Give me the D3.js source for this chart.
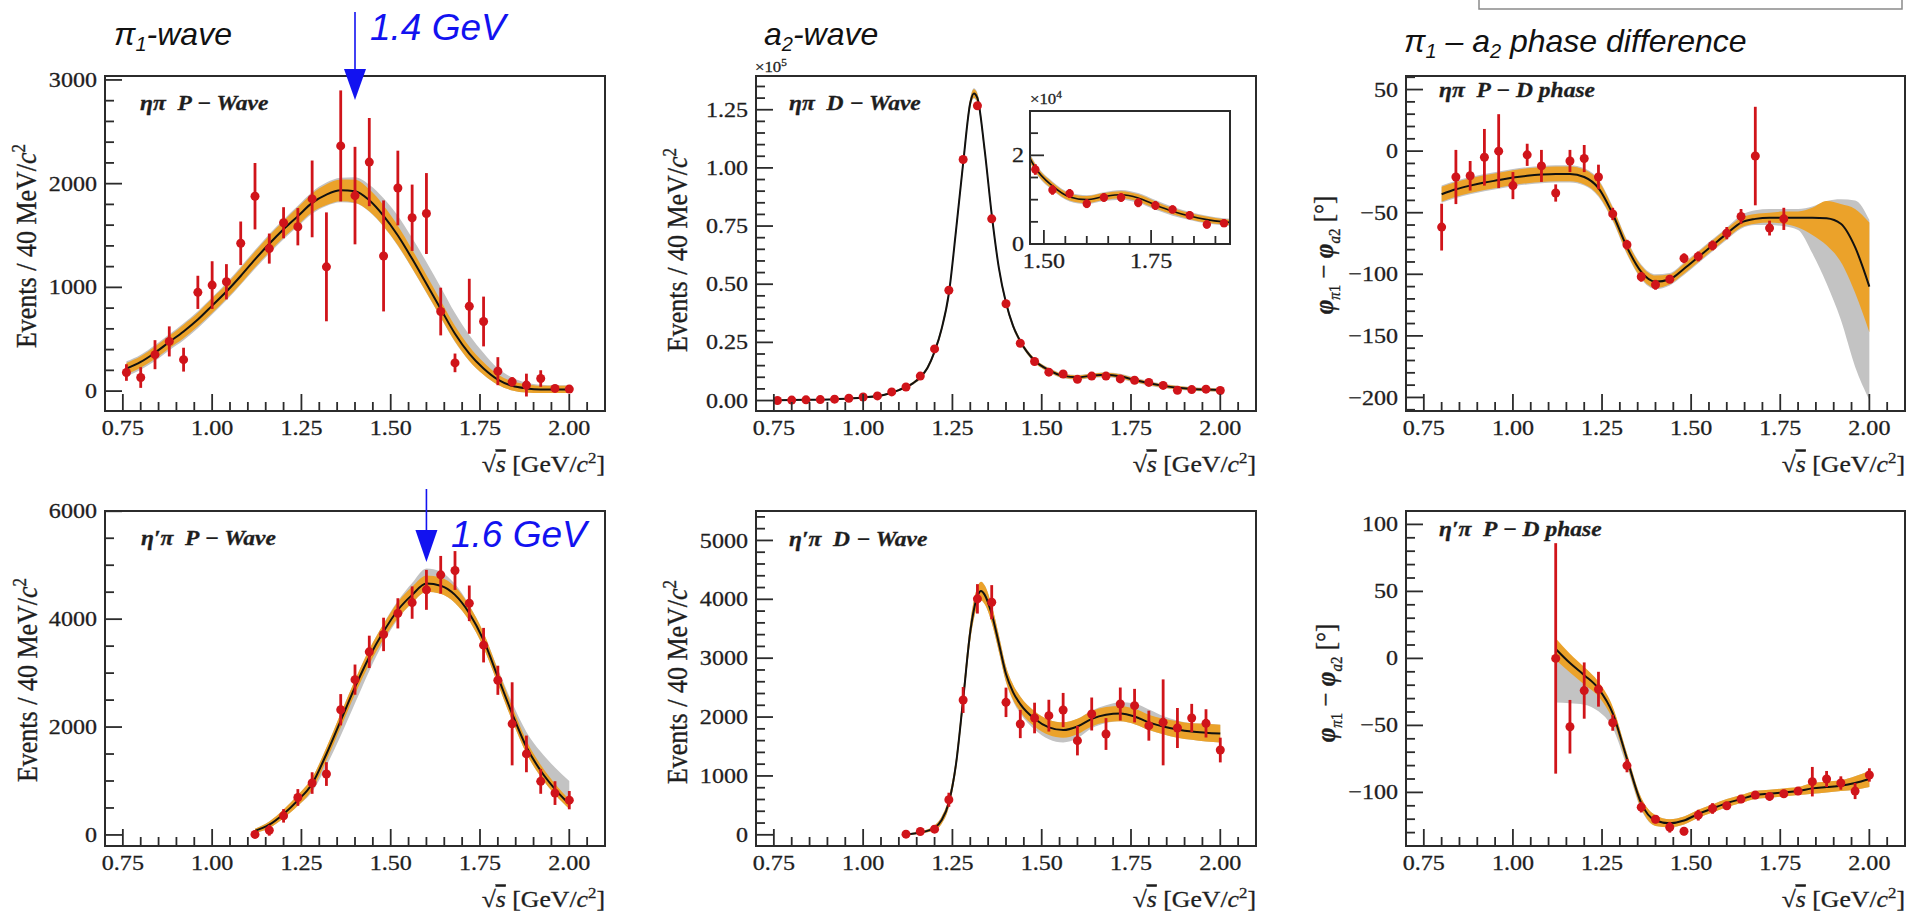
<!DOCTYPE html>
<html>
<head>
<meta charset="utf-8">
<title>π1 and a2 waves in ηπ and η′π</title>
<script src="https://cdn.jsdelivr.net/npm/d3@7/dist/d3.min.js"></script>
<style>
  html, body { margin: 0; padding: 0; background: #fff; }
  svg { display: block; }
  .serif { font-family: "Liberation Serif", "Times New Roman", Times, serif; fill: #1e1e1e; stroke: #1e1e1e; stroke-width: 0.3px; }
  .sans { font-family: "Liberation Sans", Arial, Helvetica, sans-serif; }
</style>
</head>
<body>
<svg id="chart" width="1919" height="911"></svg>
<script>
// ---------------- bin centres, GeV/c^2 ----------------
const massBinsEtaPi = [0.76,0.80,0.84,0.88,0.92,0.96,1.00,1.04,1.08,1.12,1.16,1.20,1.24,1.28,1.32,1.36,1.40,1.44,1.48,1.52,1.56,1.60,1.64,1.68,1.72,1.76,1.80,1.84,1.88,1.92,1.96,2.00];
const phaseBinsEtaPi = [0.80,0.84,0.88,0.92,0.96,1.00,1.04,1.08,1.12,1.16,1.20,1.24,1.28,1.32,1.36,1.40,1.44,1.48,1.52,1.56,1.60,1.64,1.68,1.72,1.76];
const massBinsEtaPrimePi = [1.12,1.16,1.20,1.24,1.28,1.32,1.36,1.40,1.44,1.48,1.52,1.56,1.60,1.64,1.68,1.72,1.76,1.80,1.84,1.88,1.92,1.96,2.00];
const xTickValues = [0.75,1.00,1.25,1.50,1.75,2.00];

// ---------------- ηπ P-wave (events / 40 MeV) ----------------
const etaPiPWave    = [179,131,351,479,303,952,1022,1054,1425,1879,1374,1623,1585,1853,1198,2364,1885,2208,1303,1958,1671,1712,767,272,818,671,192,89,58,121,26,19];
const etaPiPWaveErr = [80,100,140,145,115,160,230,170,210,320,145,150,180,370,525,535,470,425,535,360,320,390,230,90,265,240,135,45,110,80,20,20];
const etaPiPWaveFit = [217,281,370,473,575,690,824,960,1110,1270,1420,1560,1687,1815,1895,1936,1927,1840,1690,1500,1275,1035,792,553,361,217,110,51,26,16,16,16];
const etaPiPWaveStat = [55,55,60,60,65,65,70,70,75,75,80,80,85,90,100,105,110,105,100,95,90,85,80,75,70,60,50,45,40,35,35,35];
const etaPiPWaveSystUp = [70,70,75,75,80,80,80,85,90,90,95,95,100,105,115,120,135,150,170,190,200,210,210,200,180,150,110,80,55,45,40,40];
const etaPiPWaveSystDn = [75,75,80,80,85,85,85,85,85,90,95,95,100,105,110,115,115,110,105,100,95,90,85,80,70,60,50,45,40,35,35,35];

// ---------------- ηπ D-wave (×10^5 events / 40 MeV) ----------------
const etaPiDWave    = [0.000,0.002,0.003,0.004,0.006,0.010,0.015,0.020,0.037,0.058,0.105,0.222,0.474,1.036,1.267,0.781,0.416,0.246,0.168,0.122,0.114,0.091,0.105,0.105,0.093,0.087,0.078,0.065,0.044,0.047,0.049,0.043];
const etaPiDWaveErr = [0.002,0.002,0.002,0.002,0.002,0.002,0.003,0.003,0.004,0.005,0.006,0.008,0.010,0.012,0.012,0.010,0.008,0.007,0.012,0.011,0.010,0.010,0.010,0.010,0.010,0.010,0.009,0.009,0.009,0.009,0.008,0.008];
const etaPiDWaveFitX = [0.76,0.84,0.92,1.00,1.06,1.10,1.14,1.16,1.18,1.20,1.22,1.24,1.26,1.28,1.30,1.31,1.32,1.34,1.36,1.38,1.40,1.42,1.44,1.48,1.52,1.56,1.60,1.64,1.68,1.72,1.76,1.80,1.84,1.88,1.92,1.96,2.00];
const etaPiDWaveFit  = [0.001,0.003,0.006,0.013,0.025,0.045,0.075,0.100,0.140,0.210,0.310,0.460,0.730,1.020,1.280,1.320,1.300,1.080,0.800,0.570,0.420,0.320,0.255,0.172,0.131,0.106,0.100,0.107,0.111,0.104,0.088,0.074,0.063,0.055,0.050,0.047,0.045];
const etaPiDWaveStat = [0.002,0.002,0.002,0.003,0.003,0.004,0.005,0.006,0.007,0.009,0.011,0.013,0.015,0.017,0.018,0.018,0.018,0.016,0.014,0.012,0.010,0.009,0.008,0.008,0.008,0.008,0.008,0.008,0.008,0.008,0.008,0.007,0.007,0.007,0.006,0.006,0.006];
const etaPiDWaveSyst = [0.003,0.003,0.003,0.004,0.004,0.005,0.006,0.008,0.009,0.011,0.013,0.016,0.019,0.021,0.022,0.022,0.022,0.020,0.017,0.015,0.013,0.012,0.011,0.010,0.010,0.010,0.010,0.010,0.011,0.011,0.011,0.010,0.009,0.009,0.008,0.008,0.008];

// ---------------- ηπ P–D phase (degrees) ----------------
const etaPiPhase    = [-61.7,-21,-20,-5,0,-28,-3,-12,-34,-8,-6,-21,-51,-76,-102,-108.5,-104,-87,-85.5,-76.6,-66.6,-53,-4,-62.5,-55];
const etaPiPhaseErr = [19,22,12,23,30,11,9,13,7,9,11,10,5,4,4,4,3,4,4,4,5,6,40,6,9];
const etaPiPhaseFitX = [0.80,0.84,0.88,0.92,0.96,1.00,1.04,1.08,1.12,1.16,1.20,1.24,1.28,1.32,1.36,1.40,1.44,1.48,1.52,1.56,1.60,1.64,1.68,1.72,1.76,1.80,1.84,1.88,1.92,1.96,2.00];
const etaPiPhaseFit  = [-35,-31,-28,-25.5,-23.5,-21.5,-20,-19,-18.5,-18.5,-21,-30,-51,-78,-98,-106,-104,-95.5,-86,-76.5,-67,-58,-55,-54,-54,-54,-54,-54.5,-59,-78,-110];
const etaPiPhaseStatUp = [6,6,6,6,6,6,6,6,6,6,6,6,5,5,5,5,4,4,4,4,4,4,4,4,5,5,8,14,16,31,52];
const etaPiPhaseStatDn = [6,6,6,6,6,6,6,6,6,6,6,6,5,5,5,5,4,4,4,4,4,4,4,4,5,8,14,22,31,37,37];
const etaPiPhaseSystUp = [7,7,7,7,7,7,7,7,7,7,7,7,6,6,6,6,5,5,5,5,5,6,7,7,7,7,9,14,20,38,54];
const etaPiPhaseSystDn = [7,7,7,7,7,7,7,7,7,7,7,7,6,6,6,6,5,5,5,5,5,5,5,6,7,10,29,53,78,97,92];

// ---------------- η′π P-wave ----------------
const etaPrimePiPWave    = [10,87,354,695,962,1129,2321,2879,3394,3717,4108,4307,4543,4822,4902,4294,3518,2867,2060,1502,993,776,645];
const etaPrimePiPWaveErr = [70,100,125,155,200,220,290,280,300,310,280,300,370,350,360,330,320,270,770,340,230,220,170];
const etaPrimePiPWaveFit = [75,190,390,640,950,1500,2120,2740,3300,3770,4170,4450,4660,4620,4450,4110,3610,2930,2250,1630,1190,850,570];
const etaPrimePiPWaveStat = [40,60,80,100,110,120,130,130,140,140,150,150,150,150,150,140,140,130,130,120,110,100,90];
const etaPrimePiPWaveSystUp = [40,60,80,100,110,120,130,130,140,150,170,220,280,260,200,150,140,150,200,280,350,400,430];
const etaPrimePiPWaveSystDn = [40,60,80,100,150,220,280,300,260,200,170,150,150,150,150,140,140,130,130,120,110,100,90];

// ---------------- η′π D-wave ----------------
const etaPrimePiDWave    = [11,57,96,595,2290,4008,3951,2250,1882,1984,2024,2120,1599,2052,1712,2222,2194,1854,1910,1814,1984,1893,1440];
const etaPrimePiDWaveErr = [40,50,60,120,220,250,290,250,240,260,270,290,250,280,270,280,285,255,730,340,240,240,210];
const etaPrimePiDWaveFitX = [1.12,1.16,1.20,1.22,1.24,1.26,1.28,1.30,1.32,1.33,1.34,1.36,1.38,1.40,1.42,1.44,1.48,1.52,1.56,1.60,1.64,1.68,1.72,1.76,1.80,1.84,1.88,1.92,1.96,2.00];
const etaPrimePiDWaveFit  = [10,40,120,250,550,1200,2300,3450,4050,4140,4080,3750,3250,2730,2420,2220,1970,1825,1780,1840,1970,2040,2060,2010,1910,1840,1790,1755,1735,1720];
const etaPrimePiDWaveStat = [10,20,40,60,80,100,130,150,160,160,160,150,140,130,130,130,130,130,130,130,130,130,130,130,130,130,140,140,150,150];
const etaPrimePiDWaveSystUp = [10,20,40,60,80,100,130,150,160,160,160,150,140,130,130,130,130,130,130,130,140,160,190,220,220,180,150,140,150,150];
const etaPrimePiDWaveSystDn = [10,20,40,60,80,100,130,150,160,160,160,150,140,140,150,160,180,200,210,200,160,140,130,130,130,130,140,140,150,150];

// ---------------- η′π P–D phase ----------------
const etaPrimePiPhase    = [0,-51,-24,-23,-48,-80,-111,-120,-126,-129,-117,-112,-110,-105,-102,-103,-101,-99,-92,-90,-93,-99,-87];
const etaPrimePiPhaseErr = [86,20,21,13,6,5,4,3,4,3,4,4,3,3,3,3,3,3,11,6,5,6,5];
const etaPrimePiPhaseFit = [7,-3.5,-12.5,-22.5,-41,-75,-108,-121,-123,-121,-116,-112,-108,-105,-102,-101,-100,-99,-97,-96,-95,-93,-90];
const etaPrimePiPhaseStatUp = [8,7,6,5,5,4,4,4,3,3,3,3,3,3,3,3,3,3,4,4,4,5,6];
const etaPrimePiPhaseStatDn = [8,7,7,6,5,4,4,4,3,3,3,3,3,3,3,3,3,3,4,4,4,5,6];
const etaPrimePiPhaseSystUp = [4,4,4,4,4,4,4,4,3,3,3,3,3,3,3,3,3,3,4,4,4,5,6];
const etaPrimePiPhaseSystDn = [40,30,22,17,11,6,5,4,3,3,3,3,3,3,3,3,3,3,4,4,4,5,6];

// ---------------- y-axis tick values ----------------
const yTicksEtaPiP   = [0,1000,2000,3000];
const yTicksEtaPiD   = [0,0.25,0.50,0.75,1.00,1.25];
const yTicksPhaseA   = [-200,-150,-100,-50,0,50];
const yTicksEtaPrP   = [0,2000,4000,6000];
const yTicksEtaPrD   = [0,1000,2000,3000,4000,5000];
const yTicksPhaseB   = [-100,-50,0,50,100];
const insetXTicks    = [1.50,1.75];
const insetYTicks    = [0,2];

// resonance positions marked with arrows (GeV)
const arrowMassTop = 1.4;
const arrowMassBottom = 1.6;

// ---------------- styling / layout ----------------
const SX = 1.12;              // plot lettering is slightly wide
const INK = "#2b2b2b";
const RED = "#d0141a";
const ORANGE = "#eba22a";
const GRAY = "#c3c3c3";
const BLUE = "#1212f0";
const cols = [{left:105,right:605},{left:756,right:1256},{left:1406,right:1905}];
const rows = [{top:76,bottom:411},{top:511,bottom:846}];

const svg = d3.select("#chart");
svg.append("rect").attr("width",1919).attr("height",911).attr("fill","#fff");

const fmtInt = d3.format("d");
const fmt2 = d3.format(".2f");
const fmtPhase = v => v < 0 ? "\u2212" + Math.abs(v) : String(v);

function serifText(parent, x, y, o = {}) {
  const t = parent.append("text")
    .attr("class", "serif")
    .attr("transform", `translate(${x},${y}) scale(${SX},1)` + (o.rotate ? " rotate(-90)" : ""))
    .attr("text-anchor", o.anchor || "start")
    .attr("font-size", o.size || 21)
    .style("white-space", "pre");
  if (o.weight) t.attr("font-weight", o.weight);
  if (o.italic) t.attr("font-style", "italic");
  if (o.text != null) t.text(o.text);
  return t;
}

function stepTicks(domain, step) {
  const lo = Math.ceil(domain[0] / step - 1e-9), hi = Math.floor(domain[1] / step + 1e-9);
  return d3.range(lo, hi + 1).map(k => +(k * step).toFixed(6));
}

let clipCount = 0;
function drawPanel(p) {
  const box = p.box;
  const x = d3.scaleLinear().domain(p.xDomain).range([box.left, box.right]);
  const y = d3.scaleLinear().domain(p.yDomain).range([box.bottom, box.top]);
  const k = p.k || 1;
  const g = svg.append("g");
  if (p.fillBg) g.append("rect").attr("x", box.left).attr("y", box.top)
      .attr("width", box.right - box.left).attr("height", box.bottom - box.top).attr("fill", "#fff");

  const cid = "clip" + (clipCount++);
  svg.append("clipPath").attr("id", cid).append("rect")
    .attr("x", box.left).attr("y", box.top)
    .attr("width", box.right - box.left).attr("height", box.bottom - box.top);
  const plot = g.append("g").attr("clip-path", `url(#${cid})`);

  // fit curve with its two uncertainty bands
  const fitRows = p.fitX.map((xv, i) => ({
    x: xv, f: p.fit[i],
    sLo: p.fit[i] - p.statDn[i], sHi: p.fit[i] + p.statUp[i],
    yLo: p.fit[i] - p.systDn[i], yHi: p.fit[i] + p.systUp[i]
  }));
  const band = (lo, hi) => d3.area().curve(d3.curveMonotoneX)
    .x(d => x(d.x)).y0(d => y(d[lo] * k)).y1(d => y(d[hi] * k));
  plot.append("path").datum(fitRows).attr("d", band("yLo", "yHi")).attr("fill", GRAY);
  plot.append("path").datum(fitRows).attr("d", band("sLo", "sHi")).attr("fill", ORANGE);
  plot.append("path").datum(fitRows)
    .attr("d", d3.line().curve(d3.curveMonotoneX).x(d => x(d.x)).y(d => y(d.f * k)))
    .attr("fill", "none").attr("stroke", "#111").attr("stroke-width", p.lineW || 2);

  // measured points
  const pts = p.bins.map((xv, i) => ({ x: xv, v: p.vals[i], e: p.errs[i] }));
  plot.append("g").selectAll("line").data(pts).join("line")
    .attr("x1", d => x(d.x)).attr("x2", d => x(d.x))
    .attr("y1", d => y((d.v - d.e) * k)).attr("y2", d => y((d.v + d.e) * k))
    .attr("stroke", RED).attr("stroke-width", 2.8);
  plot.append("g").selectAll("circle").data(pts).join("circle")
    .attr("cx", d => x(d.x)).attr("cy", d => y(d.v * k)).attr("r", p.r || 4.5)
    .attr("fill", RED);

  // ticks drawn inside the frame
  const ax = p.axis;
  const tk = g.append("g").attr("stroke", INK).attr("stroke-width", 1.8);
  const isMajor = (list, v) => list.some(m => Math.abs(m - v) < 1e-6);
  stepTicks(p.xDomain, ax.xMinorStep).filter(v => !isMajor(ax.xMajor, v)).forEach(v =>
    tk.append("line").attr("x1", x(v)).attr("x2", x(v)).attr("y1", box.bottom).attr("y2", box.bottom - ax.minorLen));
  ax.xMajor.forEach(v =>
    tk.append("line").attr("x1", x(v)).attr("x2", x(v)).attr("y1", box.bottom).attr("y2", box.bottom - ax.majorLen));
  stepTicks(p.yDomain, ax.yMinorStep).filter(v => !isMajor(ax.yMajor, v)).forEach(v =>
    tk.append("line").attr("y1", y(v)).attr("y2", y(v)).attr("x1", box.left).attr("x2", box.left + ax.minorLen));
  ax.yMajor.forEach(v =>
    tk.append("line").attr("y1", y(v)).attr("y2", y(v)).attr("x1", box.left).attr("x2", box.left + ax.majorLen));

  ax.xMajor.forEach(v => serifText(g, x(v), box.bottom + 24, { anchor: "middle", size: ax.font, text: fmt2(v) }));
  ax.yMajor.forEach(v => serifText(g, box.left - ax.yGap, y(v) + ax.font * 0.33, { anchor: "end", size: ax.font, text: ax.yFmt(v) }));

  g.append("rect").attr("x", box.left).attr("y", box.top)
    .attr("width", box.right - box.left).attr("height", box.bottom - box.top)
    .attr("fill", "none").attr("stroke", INK).attr("stroke-width", 2);

  return { g, x, y };
}

const mainAxis = (yMajor, yMinorStep, yFmt) => ({
  xMajor: xTickValues, xMinorStep: 0.05, yMajor, yMinorStep, yFmt,
  majorLen: 17, minorLen: 9, font: 21.5, yGap: 8
});
const boxOf = (c, r) => ({ left: cols[c].left, right: cols[c].right, top: rows[r].top, bottom: rows[r].bottom });
const XDOM = [0.70, 2.10];

// ---------------- panels ----------------
const p1 = drawPanel({ box: boxOf(0,0), xDomain: XDOM, yDomain: [-192, 3038],
  bins: massBinsEtaPi, vals: etaPiPWave, errs: etaPiPWaveErr,
  fitX: massBinsEtaPi, fit: etaPiPWaveFit, statUp: etaPiPWaveStat, statDn: etaPiPWaveStat,
  systUp: etaPiPWaveSystUp, systDn: etaPiPWaveSystDn,
  axis: mainAxis(yTicksEtaPiP, 200, fmtInt) });

const p2 = drawPanel({ box: boxOf(1,0), xDomain: XDOM, yDomain: [-0.045, 1.395],
  bins: massBinsEtaPi, vals: etaPiDWave, errs: etaPiDWaveErr,
  fitX: etaPiDWaveFitX, fit: etaPiDWaveFit, statUp: etaPiDWaveStat, statDn: etaPiDWaveStat,
  systUp: etaPiDWaveSyst, systDn: etaPiDWaveSyst,
  axis: mainAxis(yTicksEtaPiD, 0.05, fmt2) });

const p3 = drawPanel({ box: boxOf(2,0), xDomain: XDOM, yDomain: [-211, 61],
  bins: phaseBinsEtaPi, vals: etaPiPhase, errs: etaPiPhaseErr,
  fitX: etaPiPhaseFitX, fit: etaPiPhaseFit, statUp: etaPiPhaseStatUp, statDn: etaPiPhaseStatDn,
  systUp: etaPiPhaseSystUp, systDn: etaPiPhaseSystDn,
  axis: mainAxis(yTicksPhaseA, 10, fmtPhase) });

const p4 = drawPanel({ box: boxOf(0,1), xDomain: XDOM, yDomain: [-205, 6005],
  bins: massBinsEtaPrimePi, vals: etaPrimePiPWave, errs: etaPrimePiPWaveErr,
  fitX: massBinsEtaPrimePi, fit: etaPrimePiPWaveFit, statUp: etaPrimePiPWaveStat, statDn: etaPrimePiPWaveStat,
  systUp: etaPrimePiPWaveSystUp, systDn: etaPrimePiPWaveSystDn,
  axis: mainAxis(yTicksEtaPrP, 500, fmtInt) });

const p5 = drawPanel({ box: boxOf(1,1), xDomain: XDOM, yDomain: [-190, 5500],
  bins: massBinsEtaPrimePi, vals: etaPrimePiDWave, errs: etaPrimePiDWaveErr,
  fitX: etaPrimePiDWaveFitX, fit: etaPrimePiDWaveFit, statUp: etaPrimePiDWaveStat, statDn: etaPrimePiDWaveStat,
  systUp: etaPrimePiDWaveSystUp, systDn: etaPrimePiDWaveSystDn,
  axis: mainAxis(yTicksEtaPrD, 200, fmtInt) });

const p6 = drawPanel({ box: boxOf(2,1), xDomain: XDOM, yDomain: [-140, 110],
  bins: massBinsEtaPrimePi, vals: etaPrimePiPhase, errs: etaPrimePiPhaseErr,
  fitX: massBinsEtaPrimePi, fit: etaPrimePiPhaseFit, statUp: etaPrimePiPhaseStatUp, statDn: etaPrimePiPhaseStatDn,
  systUp: etaPrimePiPhaseSystUp, systDn: etaPrimePiPhaseSystDn,
  axis: mainAxis(yTicksPhaseB, 10, fmtPhase) });

// zoomed view of the ηπ D-wave tail, in units of 10^4
const inset = drawPanel({ box: { left: 1030, right: 1230, top: 111, bottom: 244 },
  xDomain: [1.4676, 1.934], yDomain: [0, 3], k: 10, fillBg: true, r: 4.2, lineW: 1.6,
  bins: massBinsEtaPi, vals: etaPiDWave, errs: etaPiDWaveErr,
  fitX: etaPiDWaveFitX, fit: etaPiDWaveFit, statUp: etaPiDWaveStat, statDn: etaPiDWaveStat,
  systUp: etaPiDWaveSyst, systDn: etaPiDWaveSyst,
  axis: { xMajor: insetXTicks, xMinorStep: 0.05, yMajor: insetYTicks, yMinorStep: 0.5,
          yFmt: fmtInt, majorLen: 14, minorLen: 8, font: 21.5, yGap: 6 } });

// ---------------- multipliers ----------------
function multiplier(x, y, exp) {
  const t = serifText(svg, x, y, { size: 15 });
  t.append("tspan").text("×10");
  t.append("tspan").attr("font-size", 10).attr("dy", -6).text(exp);
}
multiplier(755, 72, "5");
multiplier(1030, 104, "4");

// ---------------- in-frame labels ----------------
const labels = [
  { x: 140, y: 110, t: "ηπ  P − Wave" },
  { x: 789, y: 110, t: "ηπ  D − Wave" },
  { x: 1439, y: 97, t: "ηπ  P − D phase" },
  { x: 141, y: 545, t: "η′π  P − Wave" },
  { x: 789, y: 546, t: "η′π  D − Wave" },
  { x: 1439, y: 536, t: "η′π  P − D phase" }
];
labels.forEach(l => serifText(svg, l.x, l.y, { size: 21, weight: "bold", italic: true, text: l.t }));

// ---------------- axis titles ----------------
function eventsTitle(x, y) {
  const t = serifText(svg, x, y, { rotate: true, anchor: "middle", size: 26 });
  t.append("tspan").text("Events / 40 MeV/");
  t.append("tspan").attr("font-style", "italic").text("c");
  t.append("tspan").attr("font-size", 17).attr("dy", -10).text("2");
}
function phaseTitle(x, y) {
  const t = serifText(svg, x, y, { rotate: true, anchor: "middle", size: 25 });
  t.append("tspan").attr("font-weight", "bold").attr("font-style", "italic").text("φ");
  t.append("tspan").attr("font-size", 15).attr("dy", 6).attr("font-style", "italic").text("π");
  t.append("tspan").attr("font-size", 15).text("1");
  t.append("tspan").attr("dy", -6).text(" − ");
  t.append("tspan").attr("font-weight", "bold").attr("font-style", "italic").text("φ");
  t.append("tspan").attr("font-size", 15).attr("dy", 6).attr("font-style", "italic").text("a");
  t.append("tspan").attr("font-size", 15).text("2");
  t.append("tspan").attr("dy", -6).text(" [°]");
}
function massTitle(x, y) {
  const t = serifText(svg, x, y, { anchor: "end", size: 23 });
  t.append("tspan").text("√");
  t.append("tspan").attr("font-style", "italic").style("text-decoration", "overline").text("s");
  t.append("tspan").text(" [GeV/");
  t.append("tspan").attr("font-style", "italic").text("c");
  t.append("tspan").attr("font-size", 15).attr("dy", -9).text("2");
  t.append("tspan").attr("dy", 9).text("]");
}
eventsTitle(36, 246);
eventsTitle(687, 250);
phaseTitle(1333, 255);
eventsTitle(37, 680);
eventsTitle(687, 682);
phaseTitle(1335, 683);
cols.forEach(c => rows.forEach(r => massTitle(c.right, r.bottom + 61)));

// ---------------- column headings ----------------
function heading(x, y, parts) {
  const t = svg.append("text").attr("class", "sans").attr("x", x).attr("y", y)
    .attr("font-size", 32).attr("font-style", "italic").attr("fill", "#111").style("white-space", "pre");
  parts.forEach(p => {
    const s = t.append("tspan").text(p.t);
    if (p.sub) s.attr("font-size", 20).attr("dy", 6);
    if (p.back) s.attr("dy", -6);
  });
}
heading(114, 45, [{ t: "π" }, { t: "1", sub: true }, { t: "-wave", back: true }]);
heading(764, 45, [{ t: "a" }, { t: "2", sub: true }, { t: "-wave", back: true }]);
heading(1404, 52, [{ t: "π" }, { t: "1", sub: true }, { t: " – a", back: true }, { t: "2", sub: true }, { t: " phase difference", back: true }]);

// ---------------- resonance arrows ----------------
function massArrow(panel, mass, yTop, yHeadTop, yTip, textX, textY) {
  const ax = panel.x(mass);
  svg.append("line").attr("x1", ax).attr("x2", ax).attr("y1", yTop).attr("y2", yHeadTop + 2)
    .attr("stroke", BLUE).attr("stroke-width", 1.6);
  svg.append("path").attr("d", `M${ax - 11},${yHeadTop}L${ax + 11},${yHeadTop}L${ax},${yTip}Z`).attr("fill", BLUE);
  svg.append("text").attr("class", "sans").attr("x", textX).attr("y", textY)
    .attr("font-size", 37).attr("font-style", "italic").attr("fill", BLUE)
    .text(`${mass.toFixed(1)} GeV`);
}
massArrow(p1, arrowMassTop, 12, 69, 100, 370, 40);
massArrow(p4, arrowMassBottom, 489, 530, 562, 451, 547);

// empty caption box at the top right
svg.append("rect").attr("x", 1479).attr("y", -3).attr("width", 423).attr("height", 12)
  .attr("fill", "#fff").attr("stroke", "#8a8a8a").attr("stroke-width", 1.5);
</script>
</body>
</html>
